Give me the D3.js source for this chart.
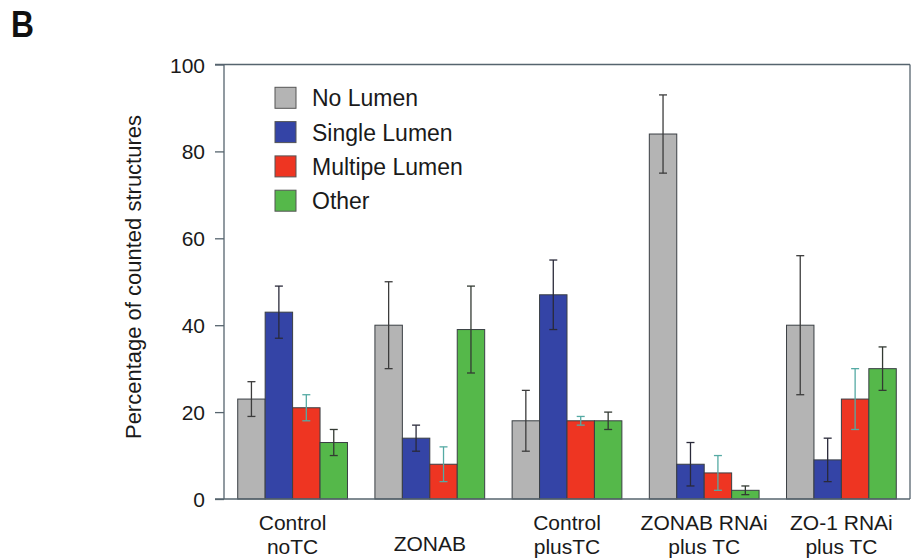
<!DOCTYPE html>
<html>
<head>
<meta charset="utf-8">
<script src="https://cdn.jsdelivr.net/npm/d3@7"></script>
<style>
  html, body { margin: 0; padding: 0; background: #fff; }
  svg { display: block; font-family: "Liberation Sans", Arial, Helvetica, sans-serif; }
</style>
</head>
<body>
<svg id="chart" width="912" height="559"></svg>
<script>
// ---- Data ----
const categories = [["Control", "noTC"], ["ZONAB"], ["Control", "plusTC"], ["ZONAB RNAi", "plus TC"], ["ZO-1 RNAi", "plus TC"]];
const series = ["No Lumen", "Single Lumen", "Multipe Lumen", "Other"];
const noLumen      = [23, 40, 18, 84, 40];
const singleLumen  = [43, 14, 47, 8, 9];
const multipeLumen = [21, 8, 18, 6, 23];
const other        = [13, 39, 18, 2, 30];
const noLumenLo      = [19, 30, 11, 75, 24];
const noLumenHi      = [27, 50, 25, 93, 56];
const singleLumenLo  = [37, 11, 39, 3, 4];
const singleLumenHi  = [49, 17, 55, 13, 14];
const multipeLumenLo = [18, 4, 17, 2, 16];
const multipeLumenHi = [24, 12, 19, 10, 30];
const otherLo        = [10, 29, 16, 1, 25];
const otherHi        = [16, 49, 20, 3, 35];
const yTicks = [0, 20, 40, 60, 80, 100];

const colors = ["#b4b4b4", "#3444a6", "#ee3522", "#55b84a"];
const errColors = ["#3c3c3c", "#2a2a3a", "#55aaa4", "#333a33"];

const values = [noLumen, singleLumen, multipeLumen, other];
const los = [noLumenLo, singleLumenLo, multipeLumenLo, otherLo];
const his = [noLumenHi, singleLumenHi, multipeLumenHi, otherHi];

// ---- Layout ----
const svg = d3.select("#chart");
const pLeft = 224, pRight = 910, pTop = 64.5, pBottom = 499;
const axisColor = "#56646e";

const x0 = d3.scaleBand().domain(d3.range(categories.length)).range([pLeft, pRight]).paddingInner(0.2).paddingOuter(0.1);
const x1 = d3.scaleBand().domain(d3.range(series.length)).range([0, x0.bandwidth()]);
const y = d3.scaleLinear().domain([0, 100]).range([pBottom, pTop]);

// "B" panel label
svg.append("text").attr("transform", "translate(11,36.5) scale(0.86,1)")
  .attr("font-size", 37).attr("font-weight", "bold").attr("fill", "#111").text("B");

// Bars
const data = [];
categories.forEach((c, i) => series.forEach((s, j) => data.push({ i, j, v: values[j][i], lo: los[j][i], hi: his[j][i] })));

svg.append("g").selectAll("rect").data(data).join("rect")
  .attr("x", d => x0(d.i) + x1(d.j))
  .attr("y", d => y(d.v))
  .attr("width", x1.bandwidth())
  .attr("height", d => y(0) - y(d.v))
  .attr("fill", d => colors[d.j])
  .attr("stroke", "#3a3f44")
  .attr("stroke-width", 1);

// Error bars
const eb = svg.append("g").selectAll("g").data(data).join("g")
  .attr("stroke", d => errColors[d.j]).attr("stroke-width", 1.3);
eb.append("line")
  .attr("x1", d => x0(d.i) + x1(d.j) + x1.bandwidth() / 2)
  .attr("x2", d => x0(d.i) + x1(d.j) + x1.bandwidth() / 2)
  .attr("y1", d => y(d.lo)).attr("y2", d => y(d.hi));
[ "lo", "hi" ].forEach(k => {
  eb.append("line")
    .attr("x1", d => x0(d.i) + x1(d.j) + x1.bandwidth() / 2 - 4)
    .attr("x2", d => x0(d.i) + x1(d.j) + x1.bandwidth() / 2 + 4)
    .attr("y1", d => y(d[k])).attr("y2", d => y(d[k]));
});

// Frame
const frame = svg.append("g").attr("stroke", axisColor).attr("stroke-width", 1.3).attr("fill", "none");
frame.append("line").attr("x1", pLeft - 9).attr("x2", pRight).attr("y1", pTop).attr("y2", pTop);
frame.append("line").attr("x1", pRight).attr("x2", pRight).attr("y1", pTop).attr("y2", pBottom);

// Y axis
const yAxis = svg.append("g").attr("transform", `translate(${pLeft},0)`)
  .call(d3.axisLeft(y).tickValues(yTicks).tickSize(9).tickPadding(10));
yAxis.selectAll("path, line").attr("stroke", axisColor).attr("stroke-width", 1.3);
yAxis.select(".domain").attr("d", `M0,${pTop}V${pBottom}`);
yAxis.selectAll("text").attr("font-size", 21).attr("fill", "#1a1a1a").attr("font-family", "Liberation Sans, Arial, sans-serif").attr("dy", "0.36em");

// X axis baseline
svg.append("line").attr("x1", pLeft - 9).attr("x2", pRight).attr("y1", pBottom).attr("y2", pBottom)
  .attr("stroke", axisColor).attr("stroke-width", 1.3);

// Category labels
const xl = svg.append("g").selectAll("text").data(categories).join("text")
  .attr("x", (d, i) => x0(i) + x0.bandwidth() / 2)
  .attr("y", d => d.length === 1 ? 551 : 530)
  .attr("text-anchor", "middle").attr("font-size", 21).attr("fill", "#1a1a1a");
xl.each(function(d) {
  const t = d3.select(this);
  d.forEach((line, k) => t.append("tspan").attr("x", t.attr("x")).attr("dy", k === 0 ? 0 : 23.5).text(line));
});

// Y title
svg.append("text")
  .attr("transform", `translate(141,277) rotate(-90)`)
  .attr("text-anchor", "middle").attr("font-size", 22).attr("fill", "#1a1a1a")
  .text("Percentage of counted structures");

// Legend
const lg = svg.append("g").selectAll("g").data(series).join("g")
  .attr("transform", (d, i) => `translate(275,${87.3 + i * 34.3})`);
lg.append("rect").attr("width", 21).attr("height", 21).attr("fill", (d, i) => colors[i]).attr("stroke", "#555").attr("stroke-width", 1);
lg.append("text").attr("x", 37).attr("y", 19).attr("font-size", 23).attr("fill", "#1a1a1a").text(d => d);
</script>
</body>
</html>
